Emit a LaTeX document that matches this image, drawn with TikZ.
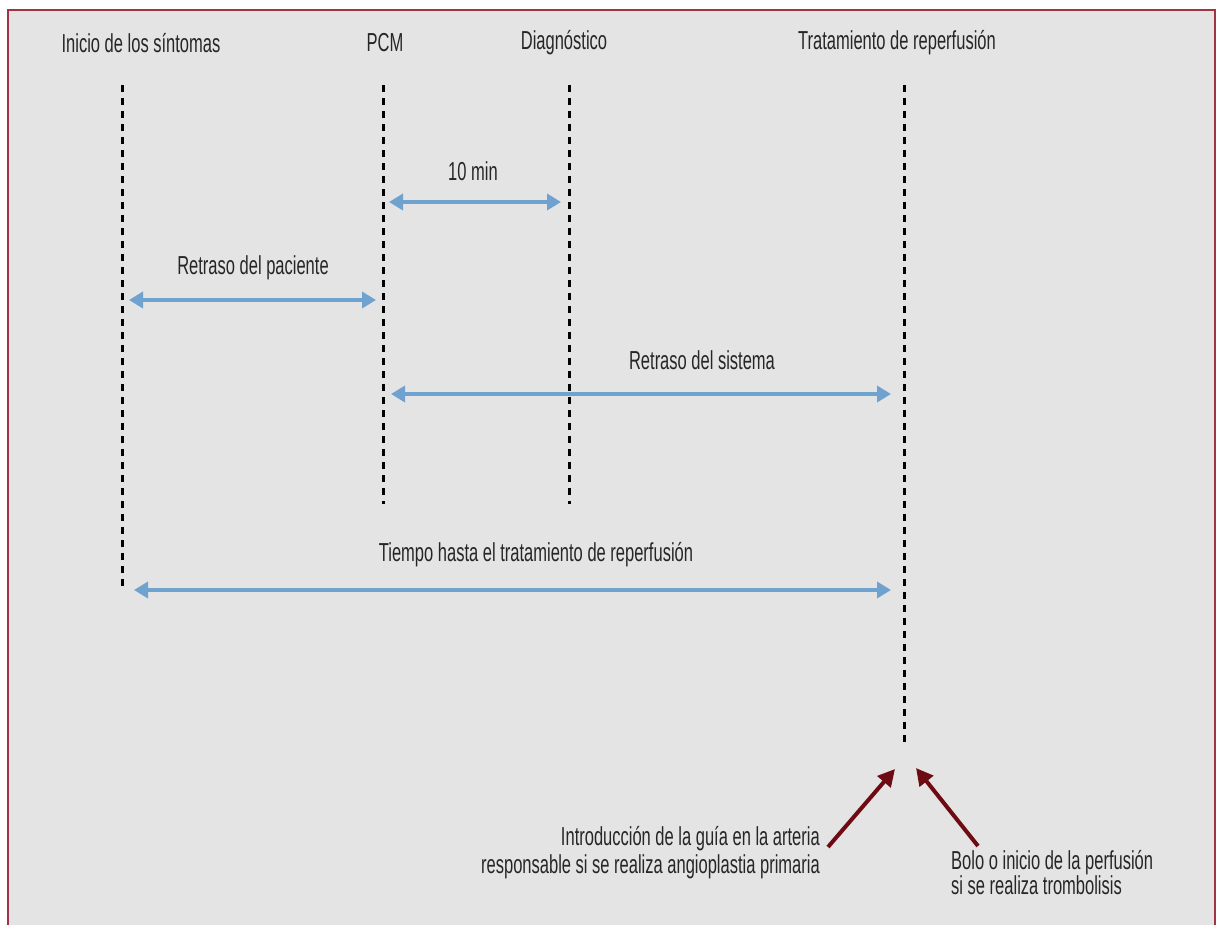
\documentclass[tikz,border=0pt]{standalone}
\usepackage{fontspec}
\setmainfont{Liberation Sans}[FakeStretch=0.635]
\usetikzlibrary{arrows.meta}
\definecolor{bgfill}{HTML}{E4E4E4}
\definecolor{framered}{HTML}{9E3444}
\definecolor{arrblue}{HTML}{70A2D0}
\definecolor{arrred}{HTML}{6E0A12}
\tikzset{
  lbl/.style={font=\fontsize{26}{30}\selectfont, inner sep=0pt, text=black!85},
  tline/.style={line width=3pt, dash pattern=on 7pt off 6pt, black},
  span/.style={line width=4pt, arrblue, {Triangle[width=16pt,length=14pt]}-{Triangle[width=16pt,length=14pt]}},
  pointer/.style={line width=4pt, arrred, -{Triangle[width=17pt,length=17pt]}},
}
\begin{document}
\begin{tikzpicture}[x=1pt,y=-1pt]
\useasboundingbox (0,0) rectangle (1217,924);
\fill[white] (0,0) rectangle (1217,924);
\fill[bgfill] (8,10) rectangle (1215,930);
\draw[framered, line width=2.5pt] (8,930) -- (8,10) -- (1215,10) -- (1215,930);
% headings
\node[lbl] (h1) at (141,43) {Inicio de los síntomas};
\node[lbl] (h2) at (385,43) {PCM};
\node[lbl] (h3) at (564,43) {Diagnóstico};
\node[lbl] (h4) at (897,43) {Tratamiento de reperfusión};
% time lines
\coordinate (t1a) at (122,85); \coordinate (t1b) at (122,586);
\coordinate (t2a) at (383,85); \coordinate (t2b) at (383,504);
\coordinate (t3a) at (569,85); \coordinate (t3b) at (569,504);
\coordinate (t4a) at (904,85); \coordinate (t4b) at (904,743);
\draw[tline] (t1a) -- (t1b);
\draw[tline] (t2a) -- (t2b);
\draw[tline] (t3a) -- (t3b);
\draw[tline] (t4a) -- (t4b);
% spans
\coordinate (s1a) at (389,202); \coordinate (s1b) at (561,202);
\draw[span] (s1a) -- (s1b);
\node[lbl] (l1) at (473,171) {10 min};
\coordinate (s2a) at (129,300); \coordinate (s2b) at (376,300);
\draw[span] (s2a) -- (s2b);
\node[lbl] (l2) at (253,268) {Retraso del paciente};
\coordinate (s3a) at (391,394); \coordinate (s3b) at (891,394);
\draw[span] (s3a) -- (s3b);
\node[lbl] (l3) at (702,360) {Retraso del sistema};
\coordinate (s4a) at (134,590); \coordinate (s4b) at (891,590);
\draw[span] (s4a) -- (s4b);
\node[lbl] (l4) at (536,555) {Tiempo hasta el tratamiento de reperfusión};
% bottom notes
\node[lbl, anchor=north east, align=right, font=\fontsize{26}{28}\selectfont] (n1) at (820,826) {Introducción de la guía en la arteria\\responsable si se realiza angioplastia primaria};
\node[lbl, anchor=north west, align=left, font=\fontsize{26}{24}\selectfont] (n2) at (951,850) {Bolo o inicio de la perfusión\\si se realiza trombolisis};
\coordinate (p1a) at (828,847); \coordinate (p1b) at (895,769);
\coordinate (p2a) at (978,846); \coordinate (p2b) at (916,768);
\draw[pointer] (p1a) -- (p1b);
\draw[pointer] (p2a) -- (p2b);
\end{tikzpicture}
\end{document}
